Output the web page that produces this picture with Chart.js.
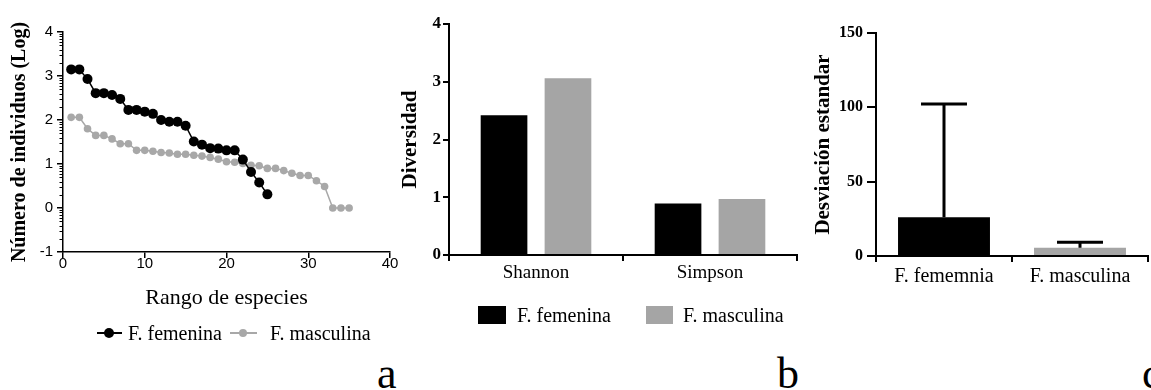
<!DOCTYPE html>
<html><head><meta charset="utf-8">
<script src="https://cdn.jsdelivr.net/npm/chart.js@4.4.1/dist/chart.umd.min.js"></script>
<style>
html,body{margin:0;padding:0;background:#fff;}
body{width:1151px;height:390px;position:relative;overflow:hidden;font-family:"Liberation Serif",serif;color:#000;}
canvas{position:absolute;}
.t{position:absolute;white-space:nowrap;font-family:"Liberation Serif",serif;font-size:20px;line-height:20px;color:#000;}
.sw{position:absolute;}
.big{position:absolute;font-family:"Liberation Serif",serif;font-size:44px;line-height:44px;color:#000;}
</style></head><body>
<canvas id="ca" width="400" height="309" style="left:0;top:0;width:400px;height:309px"></canvas>
<canvas id="cb" width="400" height="300" style="left:400px;top:0;width:400px;height:300px"></canvas>
<canvas id="cc" width="361" height="300" style="left:790px;top:0;width:361px;height:300px"></canvas>

<!-- legend a -->
<div class="sw" style="left:97px;top:332px;width:25px;height:2px;background:#000"></div>
<div class="sw" style="left:104px;top:328px;width:10px;height:10px;border-radius:50%;background:#000"></div>
<div class="t" style="left:128px;top:323px">F. femenina</div>
<div class="sw" style="left:230px;top:332px;width:27px;height:2px;background:#a8a8a8"></div>
<div class="sw" style="left:239px;top:329px;width:8px;height:8px;border-radius:50%;background:#a8a8a8"></div>
<div class="t" style="left:270px;top:323px">F. masculina</div>

<!-- legend b -->
<div class="sw" style="left:478px;top:306px;width:28px;height:18px;background:#000"></div>
<div class="t" style="left:517px;top:305px">F. femenina</div>
<div class="sw" style="left:646px;top:306px;width:27px;height:18px;background:#a5a5a5"></div>
<div class="t" style="left:683px;top:305px">F. masculina</div>

<div class="big" style="left:377px;top:352px">a</div>
<div class="big" style="left:777px;top:352px">b</div>
<div class="big" style="left:1142px;top:352px">c</div>

<script>
// ---- Panel a: rank-abundance ----
const aFemenina  = [3.15,3.15,2.93,2.61,2.61,2.57,2.48,2.23,2.23,2.19,2.14,2.00,1.96,1.96,1.87,1.51,1.44,1.36,1.35,1.31,1.31,1.10,0.82,0.58,0.31];
const aMasculina = [2.06,2.06,1.80,1.65,1.65,1.57,1.46,1.46,1.31,1.31,1.29,1.26,1.25,1.22,1.22,1.20,1.18,1.15,1.11,1.05,1.04,1.01,0.97,0.96,0.90,0.90,0.85,0.79,0.74,0.74,0.62,0.49,0.00,0.00,0.00];
const aXTicks = [0,10,20,30,40];
const aYTicks = [-1,0,1,2,3,4];

// ---- Panel b: diversity indices ----
const bCategories = ['Shannon','Simpson'];
const bFemenina  = [2.42,0.89];
const bMasculina = [3.06,0.97];
const bYTicks = [0,1,2,3,4];

// ---- Panel c: standard deviation ----
const cCategories = ['F. fememnia','F. masculina'];
const cMeans = [26.0,5.6];
const cSD    = [76.2,3.6];
const cYTicks = [0,50,100,150];

const seriesNames = ['F. femenina','F. masculina'];
const SERIF = 'Liberation Serif', SANS = 'Liberation Sans';
const GRAY = '#a5a5a5';
Chart.defaults.color = '#000';

const minorTicks = {id:'minorTicks', afterDraw(chart){
  const y = chart.scales.y, ctx = chart.ctx, left = chart.chartArea.left;
  ctx.save(); ctx.strokeStyle = '#000'; ctx.lineWidth = 1;
  for (let i = 0; i < aYTicks.length - 1; i++) {
    for (let k = 2; k < 10; k++) {
      const py = Math.round(y.getPixelForValue(aYTicks[i] + Math.log10(k))) + 0.5;
      ctx.beginPath(); ctx.moveTo(left - 3.5, py); ctx.lineTo(left, py); ctx.stroke();
    }
  }
  ctx.restore();
}};

const errorBars = {id:'errorBars', afterDatasetsDraw(chart){
  const meta = chart.getDatasetMeta(0), y = chart.scales.y, ctx = chart.ctx;
  ctx.save(); ctx.strokeStyle = '#000'; ctx.lineWidth = 3;
  meta.data.forEach((bar, i) => {
    const top = y.getPixelForValue(cMeans[i] + cSD[i]);
    const base = y.getPixelForValue(cMeans[i]);
    const half = bar.width * 0.25;
    ctx.beginPath();
    ctx.moveTo(bar.x, base); ctx.lineTo(bar.x, top);
    ctx.moveTo(bar.x - half, top); ctx.lineTo(bar.x + half, top);
    ctx.stroke();
  });
  ctx.restore();
}};

function axisGrid(tl, lw){ return {display:true, drawOnChartArea:false, drawTicks:true, tickLength:tl, color:'#000', lineWidth:lw}; }
function axisBorder(w){ return {display:true, color:'#000', width:w}; }

new Chart(document.getElementById('ca'), {
  type:'line',
  data:{datasets:[
    {label:seriesNames[0], data:aFemenina.map((v,i)=>({x:i+1, y:v})), borderColor:'#000', backgroundColor:'#000', pointBackgroundColor:'#000', pointBorderWidth:0, pointRadius:5, borderWidth:1.5, tension:0},
    {label:seriesNames[1], data:aMasculina.map((v,i)=>({x:i+1, y:v})), borderColor:'#a8a8a8', backgroundColor:'#a8a8a8', pointBackgroundColor:'#a8a8a8', pointBorderWidth:0, pointRadius:3.8, borderWidth:1.5, tension:0}
  ]},
  options:{responsive:false, animation:false, devicePixelRatio:1,
    layout:{padding:{left:10, top:32, right:10, bottom:0}},
    plugins:{legend:{display:false}, tooltip:{enabled:false}},
    scales:{
      x:{type:'linear', min:0, max:40,
        afterBuildTicks:s=>{s.ticks = aXTicks.map(v=>({value:v}));},
        afterFit:s=>{s.height = 57;},
        grid:axisGrid(6,1.5), border:axisBorder(1.5),
        ticks:{font:{family:SANS, size:15, lineHeight:1}, color:'#000', padding:-2, maxRotation:0, autoSkip:false},
        title:{display:true, text:'Rango de especies', font:{family:SERIF, size:22, lineHeight:1}, padding:0, color:'#000'}},
      y:{type:'linear', min:-1, max:4,
        afterBuildTicks:s=>{s.ticks = aYTicks.map(v=>({value:v}));},
        afterFit:s=>{s.width = 53;},
        grid:axisGrid(6,1.5), border:axisBorder(1.5),
        ticks:{font:{family:SANS, size:15, lineHeight:1}, color:'#000', padding:4, autoSkip:false},
        title:{display:true, text:'Número de individuos (Log)', font:{family:SERIF, size:20, weight:'bold', lineHeight:1}, padding:0, color:'#000'}}
    }
  },
  plugins:[minorTicks]
});

new Chart(document.getElementById('cb'), {
  type:'bar',
  data:{labels:bCategories, datasets:[
    {label:seriesNames[0], data:bFemenina, backgroundColor:'#000', categoryPercentage:0.735, barPercentage:0.73},
    {label:seriesNames[1], data:bMasculina, backgroundColor:GRAY, categoryPercentage:0.735, barPercentage:0.73}
  ]},
  options:{responsive:false, animation:false, devicePixelRatio:1,
    layout:{padding:{left:0, top:24, right:3, bottom:0}},
    plugins:{legend:{display:false}, tooltip:{enabled:false}},
    scales:{
      x:{afterFit:s=>{s.height = 45;},
        grid:axisGrid(6,2), border:axisBorder(2),
        ticks:{font:{family:SERIF, size:19, lineHeight:1}, color:'#000', padding:3, maxRotation:0}},
      y:{min:0, max:4,
        afterBuildTicks:s=>{s.ticks = bYTicks.map(v=>({value:v}));},
        afterFit:s=>{s.width = 49;},
        grid:axisGrid(6,2), border:axisBorder(2),
        ticks:{font:{family:SERIF, size:17, weight:'bold', lineHeight:1}, color:'#000', padding:2},
        title:{display:true, text:'Diversidad', font:{family:SERIF, size:21, weight:'bold', lineHeight:1}, padding:0, color:'#000'}}
    }
  }
});

new Chart(document.getElementById('cc'), {
  type:'bar',
  data:{labels:cCategories, datasets:[
    {label:'Desviación estandar', data:cMeans, backgroundColor:['#000', GRAY], categoryPercentage:1, barPercentage:0.676}
  ]},
  options:{responsive:false, animation:false, devicePixelRatio:1,
    layout:{padding:{left:23, top:33, right:3, bottom:0}},
    plugins:{legend:{display:false}, tooltip:{enabled:false}},
    scales:{
      x:{afterFit:s=>{s.height = 44;},
        grid:axisGrid(6,2), border:axisBorder(2),
        ticks:{font:{family:SERIF, size:20, lineHeight:1}, color:'#000', padding:5, maxRotation:0}},
      y:{min:0, max:150,
        afterBuildTicks:s=>{s.ticks = cYTicks.map(v=>({value:v}));},
        afterFit:s=>{s.width = 63;},
        grid:axisGrid(9,2), border:axisBorder(2),
        ticks:{font:{family:SERIF, size:16, weight:'bold', lineHeight:1}, color:'#000', padding:4},
        title:{display:true, text:'Desviación estandar', font:{family:SERIF, size:21, weight:'bold', lineHeight:1}, padding:0, color:'#000'}}
    }
  },
  plugins:[errorBars]
});
</script>
</body></html>
